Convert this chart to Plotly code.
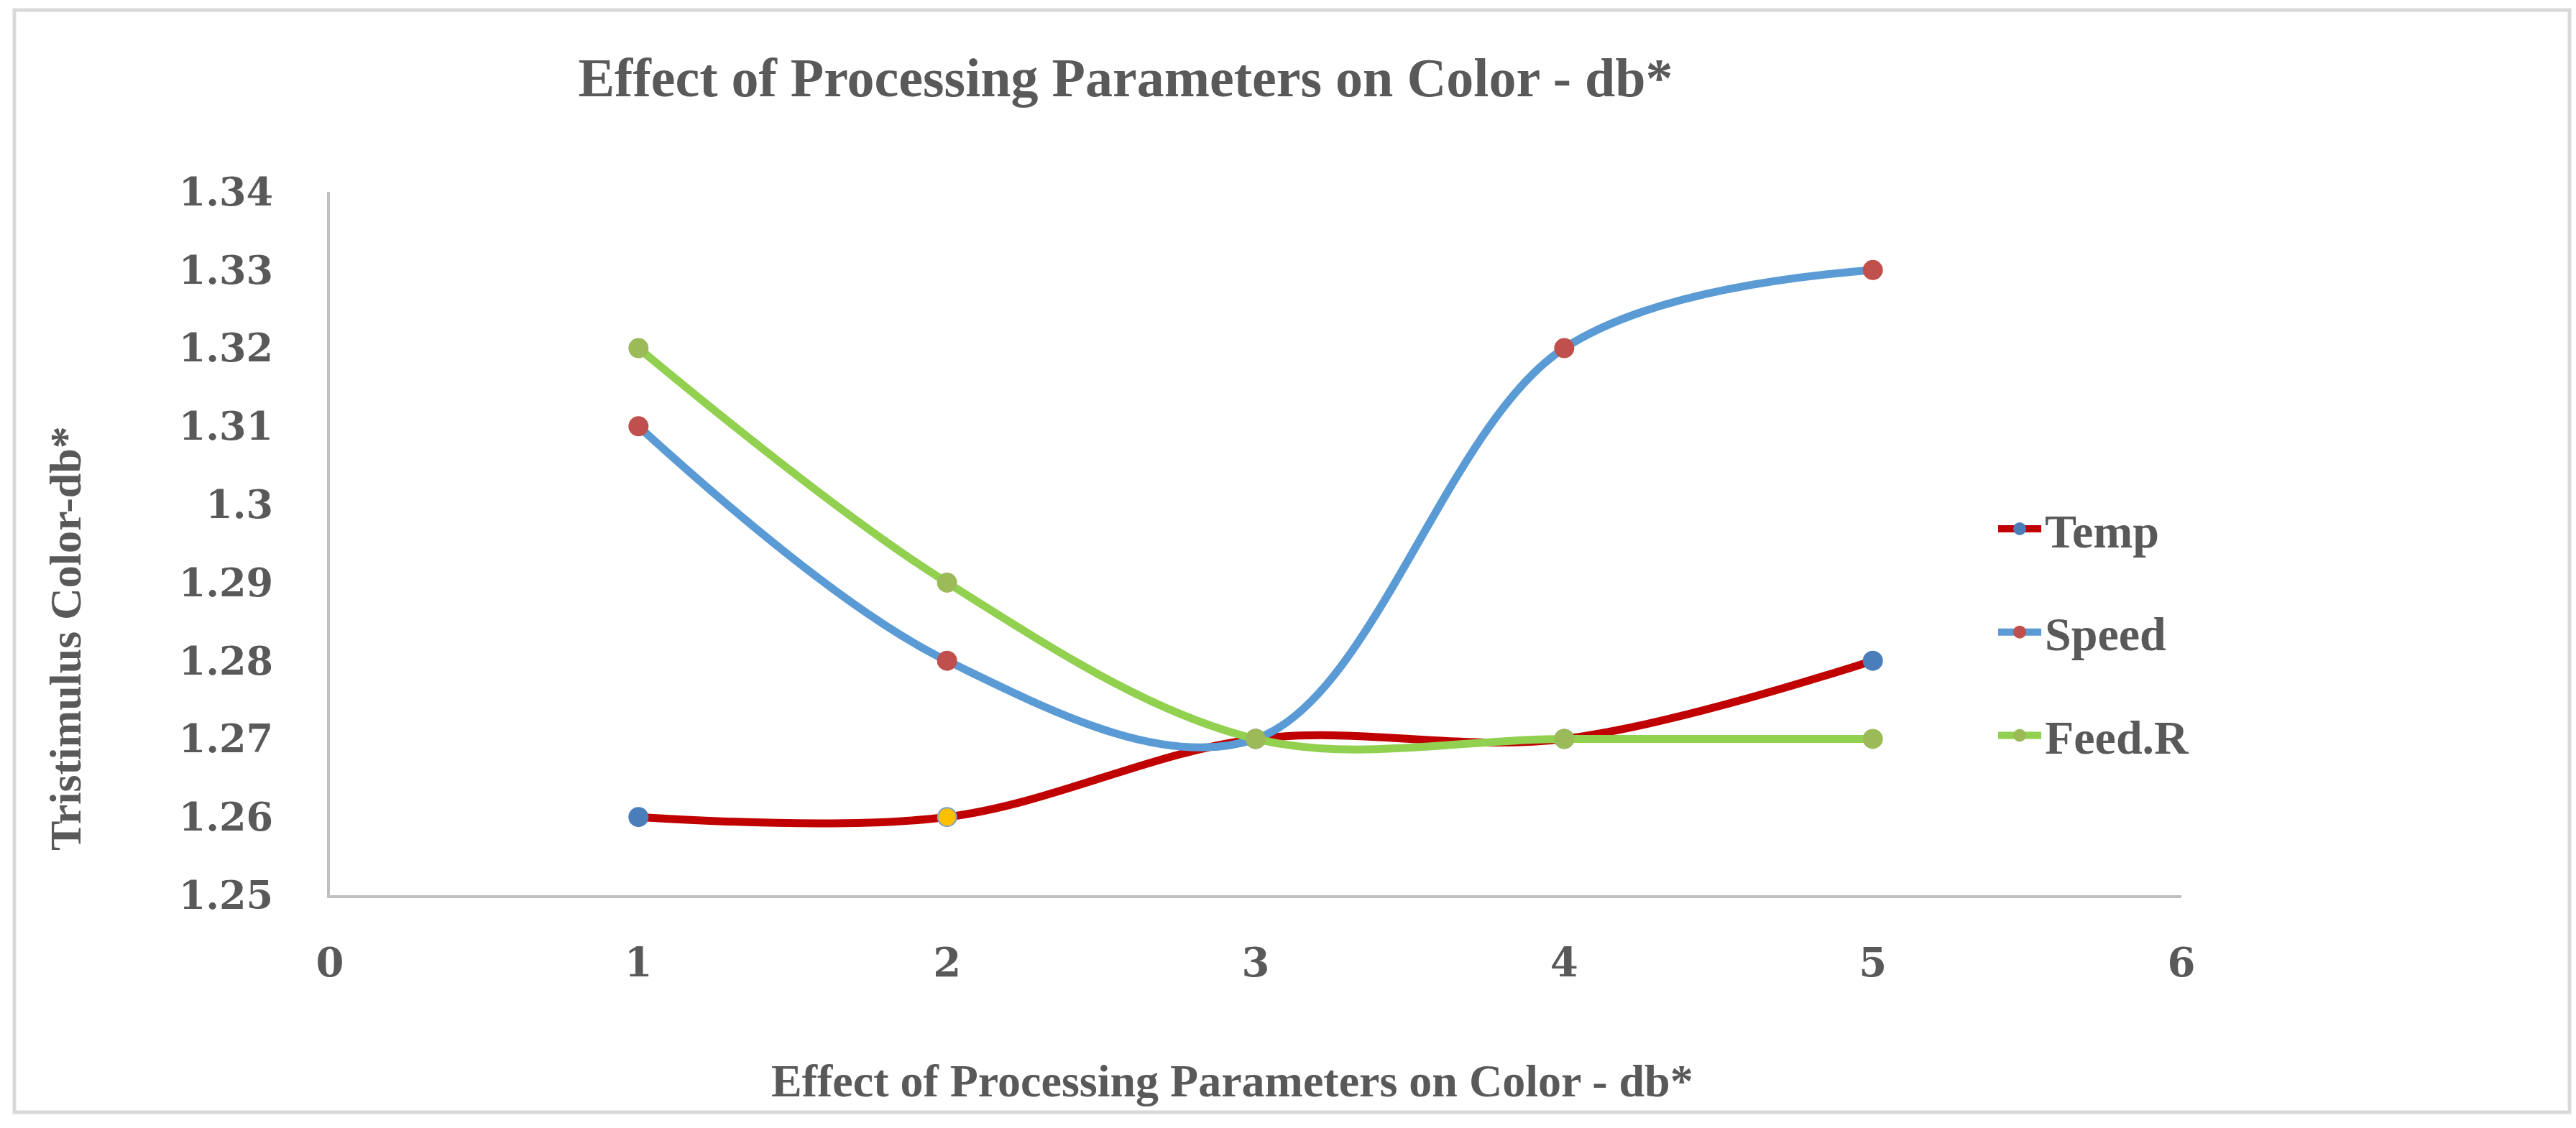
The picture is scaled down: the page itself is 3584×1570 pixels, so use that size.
import plotly.graph_objects as go

# ---------------- data ----------------
x_vals = [1, 2, 3, 4, 5]
temp = [1.26, 1.26, 1.27, 1.27, 1.28]
speed = [1.31, 1.28, 1.27, 1.32, 1.33]
feed_r = [1.32, 1.29, 1.27, 1.27, 1.27]
series_names = ["Temp", "Speed", "Feed.R"]

y_ticks = [1.25, 1.26, 1.27, 1.28, 1.29, 1.30, 1.31, 1.32, 1.33, 1.34]
y_tick_text = ["1.25", "1.26", "1.27", "1.28", "1.29", "1.3", "1.31", "1.32", "1.33", "1.34"]
x_ticks = [0, 1, 2, 3, 4, 5, 6]

title_text = "Effect of Processing Parameters on Color - db*"
x_title = "Effect of Processing Parameters on Color - db*"
y_title = "Tristimulus Color-db*"

# ---------------- styles ----------------
W, H = 3584, 1570
ML, MR, MT, MB = 459, 549, 267, 324
TEXT = "#595959"
line_colors = ["#C00000", "#5B9BD5", "#92D050"]
temp_marker_colors = ["#4A7EBB", "#FFC000", "#4A7EBB", "#4A7EBB", "#4A7EBB"]
temp_marker_lines = ["#4A7EBB", "#7F9FC8", "#4A7EBB", "#4A7EBB", "#4A7EBB"]
marker_colors = [temp_marker_colors, "#C0504D", "#9BBB59"]
marker_line_colors = [temp_marker_lines, "#C0504D", "#9BBB59"]

fig = go.Figure()
for i, (name, ys) in enumerate(zip(series_names, [temp, speed, feed_r])):
    fig.add_trace(go.Scatter(
        x=x_vals, y=ys, name=name, mode="lines+markers",
        legendgroup=name,
        line=dict(color=line_colors[i], width=11, shape="spline", smoothing=1.0),
        marker=dict(size=26, color=marker_colors[i],
                    line=dict(color=marker_line_colors[i], width=2)),
    ))

pw = W - ML - MR
ph = H - MT - MB
def px_x(p):
    return (p - ML) / pw
def px_y(p):
    return (H - MB - p) / ph

fig.update_layout(
    width=W, height=H,
    margin=dict(l=ML, r=MR, t=MT, b=MB),
    paper_bgcolor="white", plot_bgcolor="white",
    font=dict(family="Liberation Serif", color=TEXT),
    title=dict(text=title_text, x=1566 / W, xanchor="center", xref="container",
               y=1 - 107 / H, yanchor="middle", yref="container",
               font=dict(family="Liberation Serif", size=76, weight="bold", color=TEXT)),
    xaxis=dict(range=[0, 6], tickvals=x_ticks, showgrid=False, zeroline=False,
               showline=True, linecolor="#BFBFBF", linewidth=4, ticks="",
               ticklabelstandoff=42,
               tickfont=dict(family="DejaVu Serif", size=56, weight="bold", color=TEXT)),
    yaxis=dict(range=[1.25, 1.34], tickvals=y_ticks, ticktext=y_tick_text,
               showgrid=False, zeroline=False,
               showline=True, linecolor="#BFBFBF", linewidth=4, ticks="",
               ticklabelstandoff=64,
               tickfont=dict(family="DejaVu Serif", size=54, weight="bold", color=TEXT)),
    legend=dict(x=px_x(2775), xanchor="left", y=px_y(880), yanchor="middle",
                font=dict(family="Liberation Serif", size=66, weight="bold", color=TEXT),
                tracegroupgap=55, itemwidth=60, bgcolor="rgba(0,0,0,0)"),
    showlegend=True,
    annotations=[
        dict(text=y_title, textangle=-90, xref="paper", yref="paper",
             x=px_x(91), y=px_y(889), xanchor="center", yanchor="middle",
             showarrow=False,
             font=dict(family="Liberation Serif", size=62, weight="bold", color=TEXT)),
        dict(text=x_title, xref="paper", yref="paper",
             x=px_x(1714), y=px_y(1504), xanchor="center", yanchor="middle",
             showarrow=False,
             font=dict(family="Liberation Serif", size=64, weight="bold", color=TEXT)),
    ],
    shapes=[dict(type="rect", xref="paper", yref="paper",
                 x0=px_x(20), x1=px_x(3575), y0=px_y(1548), y1=px_y(14),
                 line=dict(color="#D9D9D9", width=5), fillcolor="rgba(0,0,0,0)",
                 layer="below")],
)

fig.write_html("out.html")
